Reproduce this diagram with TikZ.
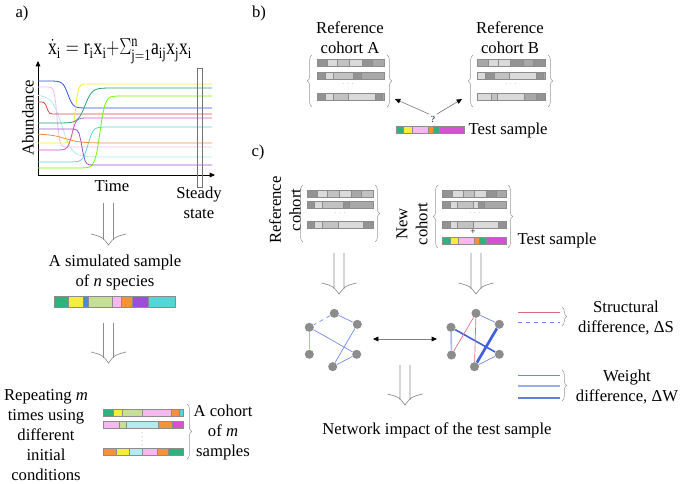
\documentclass[tikz,border=0pt]{standalone}
\usepackage{fontspec}
\setmainfont{Liberation Serif}
\usepackage{tikz}
\usetikzlibrary{arrows.meta,calc,decorations.pathreplacing}
\definecolor{cGreen}{HTML}{2FB27B}
\definecolor{cYellow}{HTML}{F2EE3A}
\definecolor{cBlue}{HTML}{4A8BD9}
\definecolor{cLime}{HTML}{C6DF95}
\definecolor{cPink}{HTML}{F6B8EF}
\definecolor{cOrange}{HTML}{F39239}
\definecolor{cPurple}{HTML}{9B4FD8}
\definecolor{cCyan}{HTML}{55D6D6}
\definecolor{cLtCyan}{HTML}{B3ECEC}
\definecolor{cMagenta}{HTML}{D452D2}
\definecolor{cRed}{HTML}{D94848}
\definecolor{gD}{HTML}{939393}
\definecolor{gMD}{HTML}{A8A8A8}
\definecolor{gM}{HTML}{C2C2C2}
\definecolor{gL}{HTML}{DADADA}
\definecolor{netBlue}{HTML}{6F86E6}
\definecolor{netLight}{HTML}{A9B7EE}
\definecolor{netDeep}{HTML}{3F5FE0}
\definecolor{netRed}{HTML}{E06B80}
\newcommand{\strip}[3]{\foreach \xa/\xb/\cl in {#3}{\filldraw[seg,fill=\cl] (\xa,#1) rectangle (\xb,#2);}}
\newcommand{\hollowarrow}[2]{%
  \draw[hol] ($(#1)+(-5,0)$) -- ($(#2)+(-5,-5)$)
             ($(#1)+(5,0)$) -- ($(#2)+(5,-5)$)
             ($(#2)+(-17.5,-11)$) .. controls ($(#2)+(-6,-8)$) .. (#2)
             .. controls ($(#2)+(6,-8)$) .. ($(#2)+(17.5,-11)$);}
\newcommand{\trace}[5]{\draw[crv,#1] plot[domain=38:212,samples=90]
  (\x,{#2+(#3-#2)*(0.5+0.5*tanh(max(-4,min(4,(\x-#4)/#5))))});}

\begin{document}
\begin{tikzpicture}[x=0.75pt,y=-0.75pt,
  font=\fontsize{12.5}{15}\selectfont,
  txt/.style={align=center},
  seg/.style={draw=black!45,line width=0.3pt},
  brc/.style={draw=black!40,line width=0.4pt,decorate,decoration={brace,amplitude=3.5pt}},
  hol/.style={draw=black!45,line width=0.5pt},
  crv/.style={line width=0.6pt},
  axis/.style={-{Triangle[length=4pt,width=3.5pt]},line width=0.5pt},
  tip/.style={{Triangle[length=4pt,width=3.5pt,color=black]}-,draw=black!50,line width=0.5pt},
  dtip/.style={{Triangle[length=4pt,width=3.5pt,color=black]}-{Triangle[length=4pt,width=3.5pt,color=black]},draw=black!50,line width=0.5pt},
  vtx/.style={circle,fill=black!45,inner sep=0pt,minimum size=6.8pt},
  lnk/.style={draw=netBlue,line width=0.5pt},
  dots/.style={font=\tiny,text=black!50,inner sep=0pt}]
\useasboundingbox (0,0) rectangle (683,484);

% a)
\node (lbla) at (22,13) {a)};
\node[anchor=base,inner sep=0pt] (eqn) at (120,55)
  {\scalebox{0.78}[1]{\fontsize{17}{20}\selectfont$\dot{\mathrm{x}}_\mathrm{i}=\mathrm{r_ix_i}{+}\Sigma^{\mathrm{n}}_{\mathrm{j=1}}\mathrm{a_{ij}x_jx_i}$}};
\coordinate (org) at (38,175);
\coordinate (ytop) at (38,61);
\coordinate (xend) at (215,175);
\draw[axis] (org) -- (ytop);
\draw[axis] (org) -- (xend);
\trace{cBlue!60!blue}{81}{108}{68}{5}
\trace{cPink}{87}{147}{57}{2.5}
\trace{cLtCyan}{95}{157}{62}{10}
\trace{cRed}{102}{114}{47}{2}
\trace{cYellow}{143}{84}{75}{3}
\trace{cGreen!90!black}{123}{88}{85}{7}
\trace{green!60!yellow}{168}{96}{100}{5}
\trace{cMagenta}{150}{118}{72}{4}
\trace{cCyan}{162}{127}{88}{5}
\trace{cOrange}{134}{143}{65}{15}
\trace{cPurple}{129}{165}{82}{3}
\draw[black!55,line width=0.4pt] (197,68) rectangle (202,187);
\node[rotate=90] (abund) at (28,118) {Abundance};
\node (time) at (112,186) {Time};
\node[txt] (steady) at (199,202.5) {Steady\\state};
\coordinate (a1top) at (108.5,203);
\coordinate (a1tip) at (108.5,245);
\hollowarrow{a1top}{a1tip}
\node[txt] (simtxt) at (115,272.5) {A simulated sample\\of \emph{n} species};
\strip{296}{307}{54.3/68.3/cGreen,68.3/83.3/cYellow,83.3/88.3/cBlue,88.3/112.3/cLime,112.3/120.7/cPink,120.7/132.3/cOrange,132.3/148.3/cPurple,148.3/175/cCyan}
\coordinate (a2top) at (108.5,323);
\coordinate (a2tip) at (108.5,363);
\hollowarrow{a2top}{a2tip}
\node[txt] (reptxt) at (46,435) {Repeating \emph{m}\\times using\\different\\initial\\conditions};
\strip{409}{416}{103.3/112.7/cGreen,112.7/122.3/cYellow,122.3/141.7/cLime,141.7/171/cPink,171/179.3/cOrange,179.3/182.7/cCyan}
\strip{421}{428}{103.3/119/cPink,119/126/cLime,126/158.3/cLtCyan,158.3/172.3/cOrange,172.3/182.7/cMagenta}
\strip{448}{455}{103.3/115.7/cOrange,115.7/129/cYellow,129/142.3/cLtCyan,142.3/156.7/cPink,156.7/167.7/cOrange,167.7/182.7/cGreen}
\foreach \yy in {433,437,441,445} \fill[black!45] (142,\yy) circle (0.5);
\draw[brc] (187,404) -- (187,459);
\node[txt] (cohtxt) at (223,432) {A cohort\\of \emph{m}\\samples};

% b)
\node (lblb) at (259,13) {b)};
\node[txt] (refA) at (350,38) {Reference\\cohort A};
\node[txt] (refB) at (510,38) {Reference\\cohort B};
\strip{59}{66}{316.7/327.3/gD,327.3/337.3/gL,337.3/349.3/gM,349.3/362.3/gL,362.3/371.7/gD,371.7/384/gMD}
\strip{72}{79}{316.7/325/gD,325/332.7/gL,332.7/353.3/gM,353.3/360.7/gD,360.7/384/gMD}
\strip{93}{100}{316.7/325/gD,325/333.3/gL,333.3/348.3/gM,348.3/375/gL,375/381.7/gD,381.7/384/gMD}
\node[dots] (dA) at (348,84) {$\cdots$};
\draw[brc] (312,107) -- (312,55);
\draw[brc] (387,55) -- (387,107);
\strip{59}{66}{477.3/487.7/gMD,487.7/498.3/gL,498.3/510/gL,510/523.3/gD,523.3/532.7/gMD,532.7/545/gD}
\strip{72}{79}{477.3/485/gL,485/494/gD,494/509.3/gM,509.3/536/gL,536/542.7/gD,542.7/545/gMD}
\strip{93}{100}{477.3/490.7/gL,490.7/497.3/gM,497.3/524/gL,524/536/gMD,536/545/gD}
\node[dots] (dB) at (511,84) {$\cdots$};
\draw[brc] (473,107) -- (473,55);
\draw[brc] (548,55) -- (548,107);
\strip{126}{133}{396/403.3/cGreen,403.3/412.3/cYellow,412.3/428.3/cPink,428.3/433.3/cOrange,433.3/439.3/cGreen,439.3/464/cMagenta}
\node[anchor=west] (testb) at (464,130) {Test sample};
\node[font=\scriptsize,inner sep=1pt] (q) at (433,119) {?};
\coordinate (tipA) at (395,99);
\coordinate (tipB) at (462,99);
\draw[tip] (tipA) -- (q.north west);
\draw[tip] (tipB) -- (q.north east);

% c)
\node (lblc) at (258,152) {c)};
\node[txt,rotate=90] (refc) at (285,210) {Reference\\cohort};
\strip{190}{197}{306.7/316.7/gD,316.7/327.3/gL,327.3/339/gM,339/351/gL,351/360.7/gMD,360.7/372.7/gM}
\strip{201}{208}{306.7/314/gD,314/321.7/gL,321.7/343.3/gM,343.3/349.3/gD,349.3/372.7/gMD}
\strip{221}{228}{306.7/314/gD,314/321.7/gL,321.7/338.3/gM,338.3/363.3/gL,363.3/372.7/gD}
\node[dots] (dC) at (340,213) {$\cdots$};
\draw[brc] (303,242) -- (303,185);
\draw[brc] (375,185) -- (375,242);
\node[txt,rotate=90] (newc) at (412,224) {New\\cohort};
\strip{190}{197}{442/452/gD,452/463/gL,463/474/gM,474/486/gL,486/496/gD,496/506/gMD}
\strip{201}{208}{442/450/gD,450/457/gL,457/473/gM,473/478/gL,478/484/gD,484/506/gMD}
\strip{221}{228}{442/450/gD,450/457/gL,457/473/gM,473/498/gL,498/506/gD}
\node[dots] (dN) at (475,213) {$\cdots$};
\node[font=\scriptsize,inner sep=0pt] (plus) at (473,232) {+};
\strip{237}{244}{442/450/cGreen,450/458/cYellow,458/474/cPink,474/479/cOrange,479/486/cGreen,486/506/cMagenta}
\draw[brc] (438,248) -- (438,185);
\draw[brc] (508,185) -- (508,248);
\node[anchor=west] (testc) at (513,240) {Test sample};
\coordinate (a3top) at (339,253);
\coordinate (a3tip) at (339,294);
\hollowarrow{a3top}{a3tip}
\coordinate (a4top) at (476,253);
\coordinate (a4tip) at (476,294);
\hollowarrow{a4top}{a4tip}

\node[vtx] (n1) at (334.3,313.3) {};
\node[vtx] (n2) at (309.3,327.3) {};
\node[vtx] (n3) at (357.3,324.3) {};
\node[vtx] (n4) at (309.3,354.3) {};
\node[vtx] (n5) at (356.7,354.3) {};
\node[vtx] (n6) at (332.7,366.7) {};
\draw[lnk,dashed] (n1) -- (n2);
\draw[lnk] (n1) -- (n3);
\draw[lnk,draw=netLight,line width=0.7pt] (n2) -- (n4);
\draw[lnk] (n2) -- (n5);
\draw[lnk] (n3) -- (n6);
\draw[lnk] (n5) -- (n6);

\node[vtx] (m1) at (476,313.3) {};
\node[vtx] (m2) at (451,327.3) {};
\node[vtx] (m3) at (499.3,324.3) {};
\node[vtx] (m4) at (451.5,355) {};
\node[vtx] (m5) at (499.3,354.3) {};
\node[vtx] (m6) at (474.5,366.7) {};
\draw[lnk] (m1) -- (m3);
\draw[lnk,draw=netLight,line width=1.2pt] (m2) -- (m4);
\draw[lnk,draw=netDeep,line width=1.2pt] (m2) -- (m5);
\draw[lnk,draw=netDeep,line width=2pt] (m3) -- (m6);
\draw[lnk] (m5) -- (m6);
\draw[lnk,draw=netRed] (m1) -- (m4);
\draw[lnk,draw=netRed] (m1) -- (m6);

\coordinate (cl) at (373,339);
\coordinate (cr) at (437,339);
\draw[dtip] (cl) -- (cr);
\coordinate (a5top) at (405,365);
\coordinate (a5tip) at (405,405);
\hollowarrow{a5top}{a5tip}
\node (impact) at (437,430) {Network impact of the test sample};

\coordinate (s1a) at (518,312.3); \coordinate (s1b) at (560,312.3);
\coordinate (s2a) at (518,322.3); \coordinate (s2b) at (560,322.3);
\draw[lnk,draw=netRed] (s1a) -- (s1b);
\draw[lnk,dashed] (s2a) -- (s2b);
\draw[brc] (562,307) -- (562,326);
\node[txt] (sdiff) at (626,318) {Structural\\difference, ΔS};
\coordinate (w1a) at (518,375); \coordinate (w1b) at (560,375);
\coordinate (w2a) at (518,386); \coordinate (w2b) at (560,386);
\coordinate (w3a) at (518,398); \coordinate (w3b) at (560,398);
\draw[lnk] (w1a) -- (w1b);
\draw[lnk,draw=netLight!80!netBlue,line width=1.3pt] (w2a) -- (w2b);
\draw[lnk,draw=netBlue!80!netDeep,line width=1.8pt] (w3a) -- (w3b);
\draw[brc] (562,370) -- (562,401);
\node[txt] (wdiff) at (627,387) {Weight\\difference, ΔW};
\end{tikzpicture}
\end{document}
